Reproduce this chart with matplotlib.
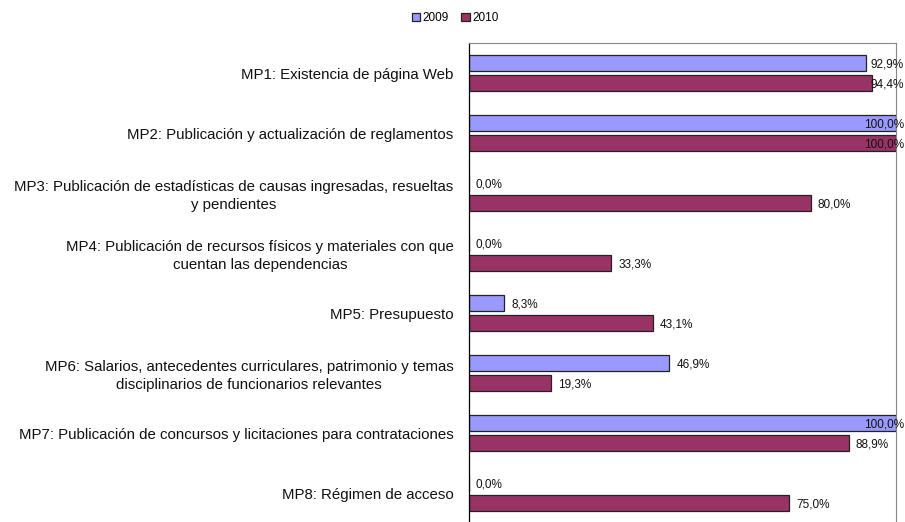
import matplotlib
matplotlib.use("Agg")
import matplotlib.pyplot as plt
import numpy as np

categories = [
    "MP1: Existencia de página Web",
    "MP2: Publicación y actualización de reglamentos",
    "MP3: Publicación de estadísticas de causas ingresadas, resueltas\ny pendientes",
    "MP4: Publicación de recursos físicos y materiales con que\ncuentan las dependencias",
    "MP5: Presupuesto",
    "MP6: Salarios, antecedentes curriculares, patrimonio y temas\ndisciplinarios de funcionarios relevantes",
    "MP7: Publicación de concursos y licitaciones para contrataciones",
    "MP8: Régimen de acceso",
]
series_names = ["2009", "2010"]
values_2009 = [92.9, 100.0, 0.0, 0.0, 8.3, 46.9, 100.0, 0.0]
values_2010 = [94.4, 100.0, 80.0, 33.3, 43.1, 19.3, 88.9, 75.0]

plt.rcParams['font.family'] = ['Liberation Sans', 'DejaVu Sans']

W, H = 905, 522
fig = plt.figure(figsize=(W / 100, H / 100), dpi=100)
ax = fig.add_axes([469 / W, 1 - 523 / H, (896 - 469) / W, (523 - 43) / H])

y = np.arange(len(categories))
bh = 16 / 60
off = 10 / 60
c09 = "#9999FF"
c10 = "#993366"
b1 = ax.barh(y - off, values_2009, height=bh, color=c09, edgecolor="#222222", linewidth=0.9, label=series_names[0])
b2 = ax.barh(y + off, values_2010, height=bh, color=c10, edgecolor="#222222", linewidth=0.9, label=series_names[1])

ax.set_xlim(0, 100)
ax.set_ylim(len(categories) - 0.5, -0.5)
ax.set_xticks([])
ax.set_yticks(y)
ax.set_yticklabels(categories, fontsize=10.8, multialignment="center", color="#111111", linespacing=1.3)
ax.tick_params(axis="y", length=0, pad=11)

for s in ["top", "right"]:
    ax.spines[s].set_color("#888888")
    ax.spines[s].set_linewidth(0.8)
ax.spines["left"].set_color("#000000")
ax.spines["left"].set_linewidth(0.9)
ax.spines["bottom"].set_visible(False)

def fmt(v):
    return f"{v:.1f}%".replace(".", ",")

px_per_unit = (896 - 469) / 100
right_limit = (904 - 469) / (896 - 469)  # axes fraction of figure right edge
for vals, dy in [(values_2009, -off), (values_2010, off)]:
    for i, v in enumerate(vals):
        bar_end_px = 469 + v * px_per_unit
        txt = fmt(v)
        est_w = 6.6 * len(txt)
        if bar_end_px + 6 + est_w > 904:
            ax.text(right_limit, i + dy + 0.03, txt, transform=ax.get_yaxis_transform(),
                    ha="right", va="center", fontsize=8.5, color="#111111", clip_on=False)
        else:
            ax.annotate(txt, xy=(v, i + dy + 0.03), xytext=(5, 0), textcoords="offset points",
                        ha="left", va="center", fontsize=8.5, color="#111111")

leg = fig.legend(handles=[b1, b2], labels=series_names, loc="center", bbox_to_anchor=(455 / W, 1 - 18 / H),
                 ncol=2, frameon=False, fontsize=8.5, handlelength=0.75, handleheight=0.75,
                 handletextpad=0.2, columnspacing=1.0)

fig.savefig("out.png", dpi=100)
